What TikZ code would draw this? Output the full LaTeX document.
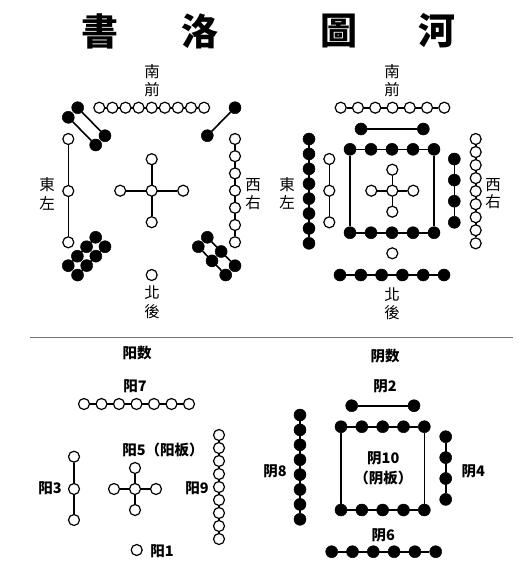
\documentclass[tikz,border=0pt]{standalone}
\usepackage{fontspec}
\usetikzlibrary{backgrounds}
\newfontfamily\cjktc{Noto Sans CJK TC}
\newfontfamily\cjksc{Noto Sans CJK SC}
\tikzset{
  wc/.style={circle,draw=black,fill=white,line width=1.2pt,minimum size=11pt,inner sep=0pt},
  bc/.style={circle,draw=black,fill=black,line width=0.5pt,minimum size=12pt,inner sep=0pt},
  ln/.style={line width=1.6pt,black},
  ttl/.style={inner sep=0pt,font=\cjktc\bfseries\fontsize{37}{40}\selectfont},
  dir/.style={inner sep=0pt,font=\cjktc\fontsize{15.5}{16}\selectfont},
  lab/.style={inner sep=0pt,font=\cjksc\bfseries\fontsize{14.5}{15}\selectfont},
}
\begin{document}
\begin{tikzpicture}[x=1pt,y=-1pt]
\useasboundingbox (0,0) rectangle (528,568);
% titles
\node[ttl] (t-shu) at (100,31) {書};
\node[ttl] (t-luo) at (200,31) {洛};
\node[ttl] (t-tu) at (339,31) {圖};
\node[ttl] (t-he) at (437,31) {河};

% ================= Luo Shu =================
\node[dir] (ls-nan) at (152,72) {南};
\node[dir] (ls-qian) at (152,90) {前};
\node[dir] (ls-dong) at (47,185) {東};
\node[dir] (ls-zuo) at (47,203) {左};
\node[dir] (ls-xi) at (253,185) {西};
\node[dir] (ls-you) at (253,203) {右};
\node[dir] (ls-bei) at (152,293) {北};
\node[dir] (ls-hou) at (152,312) {後};
% top 9
\foreach \i in {1,...,9} \node[wc] (ls-t\i) at ({99.3+13.1*(\i-1)},107.7) {};
% top-left 4
\node[bc] (ls-a1) at (77.7,107.7) {};
\node[bc] (ls-a2) at (105,135.7) {};
\node[bc] (ls-b1) at (68.3,117.3) {};
\node[bc] (ls-b2) at (95.7,145) {};
% top-right 2
\node[bc] (ls-c1) at (235,107.7) {};
\node[bc] (ls-c2) at (207.3,135.7) {};
% left 3
\foreach \i/\y in {1/139,2/191,3/242.3} \node[wc] (ls-l\i) at (68.3,\y) {};
% center 5
\node[wc] (ls-cc) at (151.7,190.7) {};
\node[wc] (ls-cn) at (151.7,159.2) {};
\node[wc] (ls-cs) at (151.7,222.2) {};
\node[wc] (ls-cw) at (120.2,190.7) {};
\node[wc] (ls-ce) at (183.2,190.7) {};
% right 7
\foreach \i in {1,...,7} \node[wc] (ls-r\i) at (235,{139+17.2*(\i-1)}) {};
% bottom-left 8
\foreach \i in {1,...,4} {
  \node[bc] (ls-d\i) at ({95.7-9.15*(\i-1)},{237.3+9.45*(\i-1)}) {};
  \node[bc] (ls-e\i) at ({105-9.15*(\i-1)},{246.7+9.45*(\i-1)}) {};
}
% bottom-right 6
\foreach \i in {1,...,3} {
  \node[bc] (ls-f\i) at ({207.3+13.85*(\i-1)},{237.3+14.2*(\i-1)}) {};
  \node[bc] (ls-g\i) at ({198.3+13.7*(\i-1)},{246.7+14.15*(\i-1)}) {};
}
% bottom 1
\node[wc] (ls-b) at (151.7,275) {};

% ================= He Tu =================
\node[dir] (ht-nan) at (392,72) {南};
\node[dir] (ht-qian) at (392,90) {前};
\node[dir] (ht-dong) at (287,185) {東};
\node[dir] (ht-zuo) at (287,202) {左};
\node[dir] (ht-xi) at (493,185) {西};
\node[dir] (ht-you) at (493,202) {右};
\node[dir] (ht-bei) at (392,295) {北};
\node[dir] (ht-hou) at (392,313) {後};
\foreach \i in {1,...,7} \node[wc] (ht-t\i) at ({340.7+17.27*(\i-1)},107.7) {};
\node[bc] (ht-p1) at (361,129) {};
\node[bc] (ht-p2) at (423.3,129) {};
\foreach \i in {1,...,5} {
  \node[bc] (ht-st\i) at ({350+21*(\i-1)},149.3) {};
  \node[bc] (ht-sb\i) at ({350+21*(\i-1)},232.7) {};
}
\node[wc] (ht-cc) at (392.3,190.7) {};
\node[wc] (ht-cn) at (392.3,169.7) {};
\node[wc] (ht-cs) at (392.3,211.7) {};
\node[wc] (ht-cw) at (371.3,190.7) {};
\node[wc] (ht-ce) at (413.3,190.7) {};
\foreach \i in {1,...,8} \node[bc] (ht-l\i) at (309,{139+14.9*(\i-1)}) {};
\foreach \i/\y in {1/159,2/190.7,3/222.3} \node[wc] (ht-m\i) at (329.3,\y) {};
\foreach \i in {1,...,4} \node[bc] (ht-n\i) at (454.3,{159+21.1*(\i-1)}) {};
\foreach \i in {1,...,9} \node[wc] (ht-r\i) at (475.7,{139+13.04*(\i-1)}) {};
\node[wc] (ht-b1) at (392.3,253.3) {};
\foreach \i in {1,...,6} \node[bc] (ht-b6\i) at ({340+20.8*(\i-1)},275) {};

% separator
\coordinate (sep-l) at (30,337);
\coordinate (sep-r) at (513,337);
\draw[line width=0.8pt,black!55] (sep-l) -- (sep-r);

% ================= Yang numbers =================
\node[lab] (y-title) at (137,353.5) {阳数};
\node[lab] (y-7l) at (135,386.5) {阳7};
\foreach \i in {1,...,7} \node[wc] (y7-\i) at ({84+17.5*(\i-1)},404) {};
\foreach \i in {1,...,9} \node[wc] (y9-\i) at (219,{435+13*(\i-1)}) {};
\node[lab] (y-9l) at (197,488.5) {阳9};
\foreach \i/\y in {1/456.7,2/489,3/520} \node[wc] (y3-\i) at (74,\y) {};
\node[lab] (y-3l) at (50,488.5) {阳3};
\node[wc] (y5-c) at (135,489) {};
\node[wc] (y5-n) at (135,468) {};
\node[wc] (y5-s) at (135,510) {};
\node[wc] (y5-w) at (114,489) {};
\node[wc] (y5-e) at (156,489) {};
\node[lab] (y-5l) at (163,450) {阳5（阳板）};
\node[wc] (y1) at (136.7,550) {};
\node[lab] (y-1l) at (162,551) {阳1};

% ================= Yin numbers =================
\node[lab] (n-title) at (385,356.5) {阴数};
\node[lab] (n-2l) at (385,386.5) {阴2};
\node[bc] (n2-1) at (351.7,405.7) {};
\node[bc] (n2-2) at (414,405.7) {};
\foreach \i in {1,...,5} {
  \node[bc] (n10-t\i) at ({341+20.83*(\i-1)},426.7) {};
  \node[bc] (n10-b\i) at ({341+20.83*(\i-1)},510) {};
}
\node[lab] (n-10l) at (383.3,458.3) {阴10};
\node[lab] (n-10m) at (383.3,478.3) {（阴板）};
\foreach \i in {1,...,8} \node[bc] (n8-\i) at (300,{415+14.9*(\i-1)}) {};
\node[lab] (n-8l) at (275,471.7) {阴8};
\foreach \i in {1,...,4} \node[bc] (n4-\i) at (445.7,{436.7+20.9*(\i-1)}) {};
\node[lab] (n-4l) at (473.3,471.7) {阴4};
\node[lab] (n-6l) at (383.3,535) {阴6};
\foreach \i in {1,...,6} \node[bc] (n6-\i) at ({331.7+20.8*(\i-1)},551.7) {};

% ================= connectors (behind) =================
\begin{pgfonlayer}{background}
\draw[ln] (ls-t1) -- (ls-t9);
\draw[ln] (ls-a1) -- (ls-a2);
\draw[ln] (ls-b1) -- (ls-b2);
\draw[ln] (ls-c1) -- (ls-c2);
\draw[ln] (ls-l1) -- (ls-l3);
\draw[ln] (ls-cn) -- (ls-cs);
\draw[ln] (ls-cw) -- (ls-ce);
\draw[ln] (ls-r1) -- (ls-r7);
\draw[ln] (ls-d1) -- (ls-d4);
\draw[ln] (ls-e1) -- (ls-e4);
\draw[ln] (ls-f1) -- (ls-f3);
\draw[ln] (ls-g1) -- (ls-g3);
\draw[ln] (ht-t1) -- (ht-t7);
\draw[ln] (ht-p1) -- (ht-p2);
\draw[ln] (ht-st1) -- (ht-st5);
\draw[ln] (ht-sb1) -- (ht-sb5);
\draw[ln] (ht-st1) -- (ht-sb1);
\draw[ln] (ht-st5) -- (ht-sb5);
\draw[ln] (ht-cn) -- (ht-cs);
\draw[ln] (ht-cw) -- (ht-ce);
\draw[ln] (ht-l1) -- (ht-l8);
\draw[ln] (ht-m1) -- (ht-m3);
\draw[ln] (ht-n1) -- (ht-n4);
\draw[ln] (ht-r1) -- (ht-r9);
\draw[ln] (ht-b61) -- (ht-b66);
\draw[ln] (y7-1) -- (y7-7);
\draw[ln] (y9-1) -- (y9-9);
\draw[ln] (y3-1) -- (y3-3);
\draw[ln] (y5-n) -- (y5-s);
\draw[ln] (y5-w) -- (y5-e);
\draw[ln] (n2-1) -- (n2-2);
\draw[ln] (n10-t1) -- (n10-t5);
\draw[ln] (n10-b1) -- (n10-b5);
\draw[ln] (n10-t1) -- (n10-b1);
\draw[ln] (n10-t5) -- (n10-b5);
\draw[ln] (n8-1) -- (n8-8);
\draw[ln] (n4-1) -- (n4-4);
\draw[ln] (n6-1) -- (n6-6);
\end{pgfonlayer}
\end{tikzpicture}
\end{document}
